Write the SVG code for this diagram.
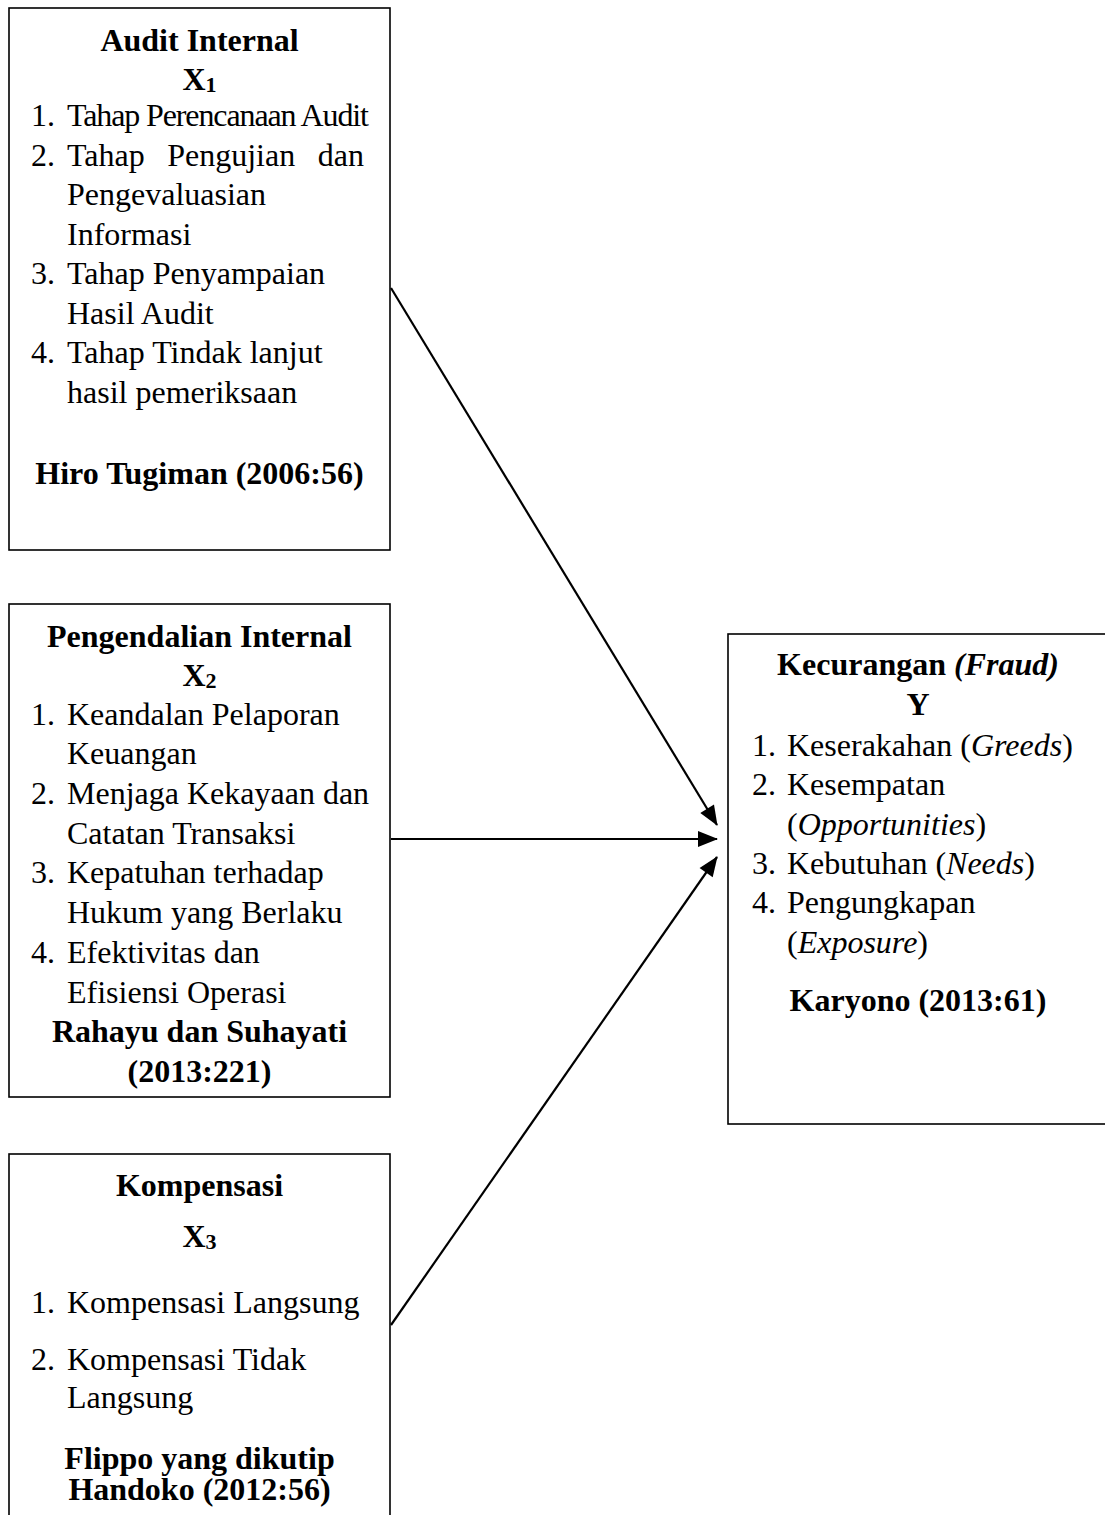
<svg xmlns="http://www.w3.org/2000/svg" width="1105" height="1515" viewBox="0 0 1105 1515">
<style>
text{font-family:"Liberation Serif","Times New Roman",serif;font-size:32px;fill:#000}
.b{font-weight:bold}
.c{text-anchor:middle}
.box{fill:#fff;stroke:#000;stroke-width:1.6}
.con{stroke:#000;stroke-width:2.2;fill:none}
.sub{font-size:22px}
</style>
<defs>
<marker id="ah" viewBox="0 0 20 16" refX="19" refY="8" markerWidth="20" markerHeight="16" markerUnits="userSpaceOnUse" orient="auto" overflow="visible">
<path d="M0,0 L20,8 L0,16 z" fill="#000"/>
</marker>
</defs>
<rect width="1105" height="1515" fill="#fff"/>
<g id="connectors">
<line class="con" x1="391" y1="288" x2="717" y2="825" marker-end="url(#ah)"/>
<line class="con" x1="391" y1="839" x2="717" y2="839" marker-end="url(#ah)"/>
<line class="con" x1="391" y1="1325" x2="717" y2="857" marker-end="url(#ah)"/>
</g>
<g id="node-x1">
<rect class="box" x="9" y="8" width="381" height="542"/>
<text class="b c" x="199.5" y="51">Audit Internal</text>
<text class="b c" x="199.5" y="90">X<tspan class="sub" dy="2">1</tspan></text>
<text x="31" y="126">1.</text><text x="67" y="126" textLength="302" lengthAdjust="spacing">Tahap Perencanaan Audit</text>
<text x="31" y="165.5">2.</text><text x="67" y="165.5" word-spacing="14.5">Tahap Pengujian dan</text>
<text x="67" y="205">Pengevaluasian</text>
<text x="67" y="244.5">Informasi</text>
<text x="31" y="284">3.</text><text x="67" y="284">Tahap Penyampaian</text>
<text x="67" y="323.5">Hasil Audit</text>
<text x="31" y="363">4.</text><text x="67" y="363">Tahap Tindak lanjut</text>
<text x="67" y="402.5">hasil pemeriksaan</text>
<text class="b c" x="199.5" y="484">Hiro Tugiman (2006:56)</text>
</g>
<g id="node-x2">
<rect class="box" x="9" y="604" width="381" height="493"/>
<text class="b c" x="199.5" y="647">Pengendalian Internal</text>
<text class="b c" x="199.5" y="686">X<tspan class="sub" dy="2">2</tspan></text>
<text x="31" y="725">1.</text><text x="67" y="725">Keandalan Pelaporan</text>
<text x="67" y="764">Keuangan</text>
<text x="31" y="804">2.</text><text x="67" y="804">Menjaga Kekayaan dan</text>
<text x="67" y="844">Catatan Transaksi</text>
<text x="31" y="883">3.</text><text x="67" y="883">Kepatuhan terhadap</text>
<text x="67" y="923">Hukum yang Berlaku</text>
<text x="31" y="963">4.</text><text x="67" y="963">Efektivitas dan</text>
<text x="67" y="1003">Efisiensi Operasi</text>
<text class="b c" x="199.5" y="1042">Rahayu dan Suhayati</text>
<text class="b c" x="199.5" y="1082">(2013:221)</text>
</g>
<g id="node-x3">
<rect class="box" x="9" y="1154" width="381" height="400"/>
<text class="b c" x="199.5" y="1196">Kompensasi</text>
<text class="b c" x="199.5" y="1247">X<tspan class="sub" dy="2">3</tspan></text>
<text x="31" y="1313">1.</text><text x="67" y="1313">Kompensasi Langsung</text>
<text x="31" y="1370">2.</text><text x="67" y="1370">Kompensasi Tidak</text>
<text x="67" y="1408">Langsung</text>
<text class="b c" x="199.5" y="1469">Flippo yang dikutip</text>
<text class="b c" x="199.5" y="1500">Handoko (2012:56)</text>
</g>
<g id="node-y">
<rect class="box" x="728" y="634" width="400" height="490"/>
<text class="b c" x="918" y="675">Kecurangan <tspan font-style="italic">(Fraud)</tspan></text>
<text class="b c" x="918" y="715">Y</text>
<text x="752" y="756">1.</text><text x="787" y="756">Keserakahan (<tspan font-style="italic">Greeds</tspan>)</text>
<text x="752" y="795">2.</text><text x="787" y="795">Kesempatan</text>
<text x="787" y="835">(<tspan font-style="italic">Opportunities</tspan>)</text>
<text x="752" y="874">3.</text><text x="787" y="874">Kebutuhan (<tspan font-style="italic">Needs</tspan>)</text>
<text x="752" y="913">4.</text><text x="787" y="913">Pengungkapan</text>
<text x="787" y="953">(<tspan font-style="italic">Exposure</tspan>)</text>
<text class="b c" x="918" y="1011">Karyono (2013:61)</text>
</g>
</svg>
